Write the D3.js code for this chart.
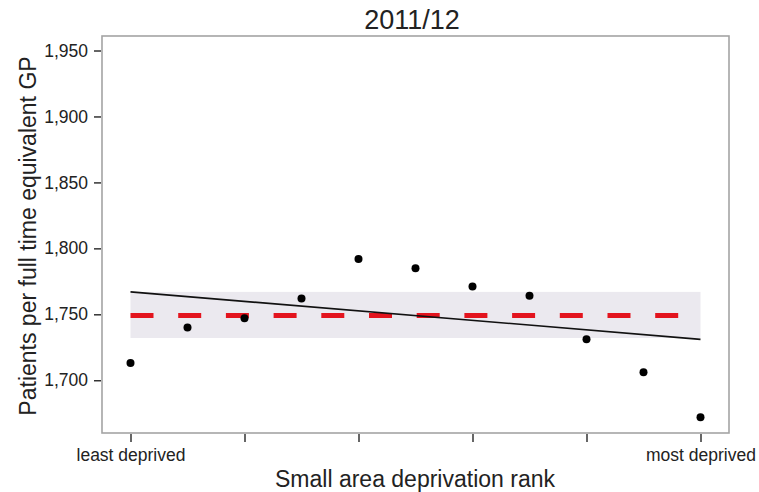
<!DOCTYPE html>
<html>
<head>
<meta charset="utf-8">
<script src="https://cdn.jsdelivr.net/npm/d3@7"></script>
<style>
  body { margin: 0; background: #fff; }
  text { font-family: "Liberation Sans", Arial, sans-serif; fill: #222; }
</style>
</head>
<body>
<div id="viz"></div>
<script>
// deprivation rank groups (1 = least deprived, 11 = most deprived)
const ranks = [1, 2, 3, 4, 5, 6, 7, 8, 9, 10, 11];
const patientsPerGP = [1713, 1740, 1747, 1762, 1792, 1785, 1771, 1764, 1731, 1706, 1672];
const trendEnds = [1767, 1731];     // fitted line at rank 1 and rank 11
const averageValue = 1749;          // red dashed line
const bandValues = [1732, 1767];    // shaded range
const yTicks = [1700, 1750, 1800, 1850, 1900, 1950];
const xTicks = [1, 3, 5, 7, 9, 11];
const xTickLabels = ["least deprived", "", "", "", "", "most deprived"];

const W = 759, H = 492;
const margin = {top: 36, right: 30, bottom: 59, left: 102},
  width = W - margin.left - margin.right,
  height = H - margin.top - margin.bottom;

const svg = d3.select("#viz")
  .append("svg")
    .attr("width", W)
    .attr("height", H);

const g = svg.append("g")
  .attr("transform", "translate(" + margin.left + "," + margin.top + ")");

const x = d3.scaleLinear().domain([0.5, 11.5]).range([0, width]);
const y = d3.scaleLinear().domain([1660, 1961]).range([height, 0]);

// shaded band
g.append("rect")
  .attr("x", x(ranks[0]))
  .attr("width", x(ranks[ranks.length - 1]) - x(ranks[0]))
  .attr("y", y(bandValues[1]))
  .attr("height", y(bandValues[0]) - y(bandValues[1]))
  .attr("fill", "#ebe9ef");

// dashed average line
g.append("line")
  .attr("x1", x(ranks[0]))
  .attr("x2", x(ranks[ranks.length - 1]))
  .attr("y1", y(averageValue))
  .attr("y2", y(averageValue))
  .attr("stroke", "#e3141e")
  .attr("stroke-width", 5)
  .attr("stroke-dasharray", "23,24.7");

// trend line
g.append("line")
  .attr("x1", x(ranks[0]))
  .attr("x2", x(ranks[ranks.length - 1]))
  .attr("y1", y(trendEnds[0]))
  .attr("y2", y(trendEnds[1]))
  .attr("stroke", "#111")
  .attr("stroke-width", 1.6);

// points
g.append("g")
  .selectAll("circle")
  .data(ranks)
  .enter()
  .append("circle")
    .attr("cx", (d) => x(d))
    .attr("cy", (d, i) => y(patientsPerGP[i]))
    .attr("r", 4)
    .attr("fill", "#000");

// frame
g.append("rect")
  .attr("width", width)
  .attr("height", height)
  .attr("fill", "none")
  .attr("stroke", "#a4a4a4")
  .attr("stroke-width", 1.6);

// Y axis
const yAxis = g.append("g")
  .call(d3.axisLeft(y).tickValues(yTicks).tickFormat(d3.format(",")).tickSize(7).tickPadding(7));
yAxis.select(".domain").remove();
yAxis.selectAll("line").attr("stroke", "#333").attr("stroke-width", 1.5).attr("transform", "translate(-1,0)");
yAxis.selectAll("text").style("font-size", "17.5px").attr("fill", "#1a1a1a");

// X axis
const xAxis = g.append("g")
  .attr("transform", "translate(0," + height + ")")
  .call(d3.axisBottom(x).tickValues(xTicks).tickFormat((d, i) => xTickLabels[i]).tickSize(8).tickPadding(8));
xAxis.select(".domain").remove();
xAxis.selectAll("line").attr("stroke", "#333").attr("stroke-width", 1.5).attr("transform", "translate(0,1)");
xAxis.selectAll("text").style("font-size", "17.5px").attr("fill", "#1a1a1a");

// title and axis labels
svg.append("text")
  .attr("x", 412)
  .attr("y", 29)
  .attr("text-anchor", "middle")
  .style("font-size", "27px")
  .text("2011/12");

svg.append("text")
  .attr("x", 415)
  .attr("y", 487)
  .attr("text-anchor", "middle")
  .style("font-size", "23px")
  .text("Small area deprivation rank");

svg.append("text")
  .attr("transform", "translate(36,236) rotate(-90)")
  .attr("text-anchor", "middle")
  .style("font-size", "23px")
  .text("Patients per full time equivalent GP");
</script>
</body>
</html>
